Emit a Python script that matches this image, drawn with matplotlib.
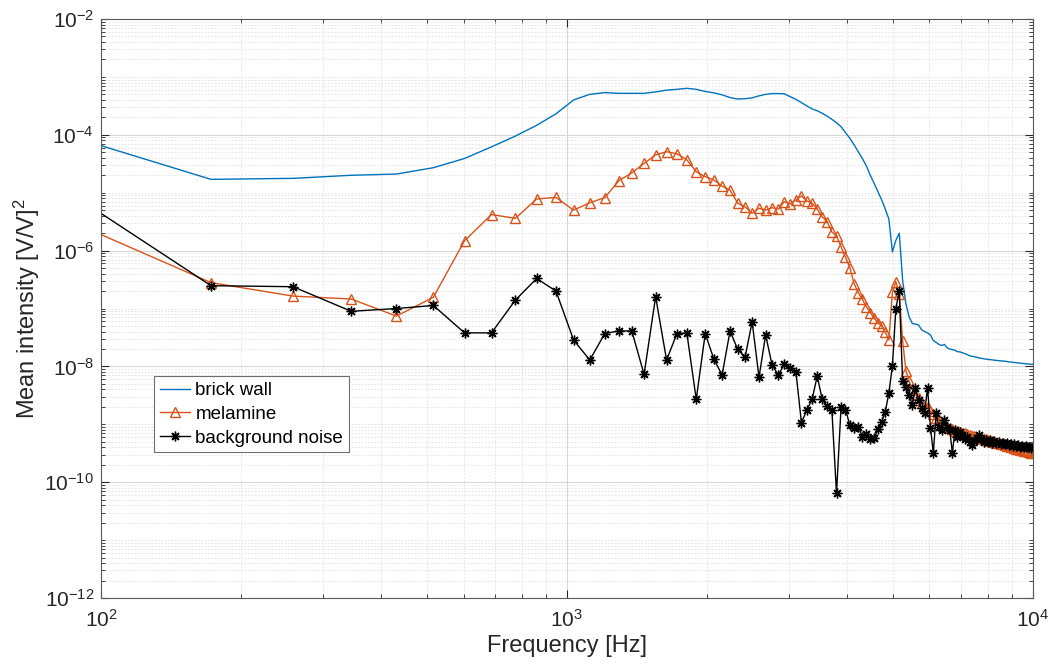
import numpy as np
import matplotlib
matplotlib.use("Agg")
import matplotlib.pyplot as plt
from matplotlib.ticker import FixedLocator, LogFormatterSciNotation, NullFormatter

plt.rcParams['font.family'] = ['Liberation Sans', 'DejaVu Sans']
plt.rcParams['mathtext.fontset'] = 'custom'
plt.rcParams['mathtext.rm'] = 'Liberation Sans'
plt.rcParams['mathtext.it'] = 'Liberation Sans:italic'

# FFT bin width (44100 / 512) and bin numbers 1..116
bin_width = 86.13
bins = np.arange(1, 117)

brick_wall = [
    9.4e-5, 1.70e-5, 1.77e-5, 2.0e-5, 2.1e-5, 2.7e-5, 3.9e-5, 6.2e-5, 9.5e-5, 1.46e-4,
    2.3e-4, 4.0e-4, 5.0e-4, 5.35e-4, 5.2e-4, 5.2e-4, 5.2e-4, 5.5e-4, 5.9e-4, 6.1e-4,
    6.35e-4, 6.1e-4, 5.6e-4, 5.3e-4, 4.9e-4, 4.4e-4, 4.15e-4, 4.2e-4, 4.35e-4, 4.7e-4,
    5.0e-4, 5.15e-4, 5.15e-4, 5.1e-4, 4.55e-4, 4.1e-4, 3.6e-4, 3.15e-4, 2.8e-4, 2.6e-4,
    2.35e-4, 2.1e-4, 1.85e-4, 1.62e-4, 1.38e-4, 1.09e-4, 8.7e-5, 6.7e-5, 5.1e-5, 3.9e-5,
    2.9e-5, 2.0e-5, 1.45e-5, 1.04e-5, 7.5e-6, 5.2e-6, 3.5e-6, 9.5e-7, 1.5e-6, 2.0e-6,
    3.1e-7, 1.2e-7, 7.2e-8, 5.5e-8, 5.4e-8, 5.2e-8, 4.3e-8, 4.0e-8, 3.8e-8, 3.5e-8,
    2.8e-8, 2.6e-8, 2.4e-8, 2.3e-8, 2.4e-8, 2.1e-8, 2.0e-8, 1.95e-8, 1.9e-8, 1.8e-8,
    1.78e-8, 1.72e-8, 1.66e-8, 1.6e-8, 1.52e-8, 1.5e-8, 1.47e-8, 1.44e-8, 1.4e-8, 1.38e-8,
    1.36e-8, 1.34e-8, 1.32e-8, 1.31e-8, 1.30e-8, 1.28e-8, 1.27e-8, 1.26e-8, 1.25e-8, 1.24e-8,
    1.23e-8, 1.22e-8, 1.20e-8, 1.19e-8, 1.18e-8, 1.17e-8, 1.16e-8, 1.15e-8, 1.14e-8, 1.13e-8,
    1.12e-8, 1.11e-8, 1.11e-8, 1.10e-8, 1.09e-8, 1.09e-8,
]

melamine = [
    3.2e-6, 2.8e-7, 1.64e-7, 1.46e-7, 7.4e-8, 1.56e-7, 1.48e-6, 4.2e-6, 3.6e-6, 7.8e-6,
    8.3e-6, 5.0e-6, 6.7e-6, 8.2e-6, 1.61e-5, 2.2e-5, 3.2e-5, 4.5e-5, 5.1e-5, 4.7e-5,
    3.7e-5, 2.3e-5, 1.89e-5, 1.66e-5, 1.3e-5, 1.11e-5, 6.6e-6, 5.7e-6, 4.4e-6, 5.4e-6,
    5.0e-6, 5.5e-6, 5.2e-6, 7.0e-6, 6.4e-6, 7.5e-6, 8.8e-6, 7.2e-6, 6.6e-6, 5.2e-6,
    3.85e-6, 3.15e-6, 2.1e-6, 1.79e-6, 1.17e-6, 7.7e-7, 5.1e-7, 2.7e-7, 1.87e-7, 1.44e-7,
    1.07e-7, 8.5e-8, 6.8e-8, 5.7e-8, 5.0e-8, 3.9e-8, 2.86e-8, 1.9e-7, 2.9e-7, 1.8e-7,
    2.8e-8, 8.5e-9, 5.5e-9, 4.0e-9, 3.3e-9, 2.8e-9, 2.3e-9, 1.9e-9, 2.0e-9, 1.7e-9,
    1.5e-9, 1.3e-9, 1.2e-9, 1.05e-9, 9.7e-10, 9.0e-10, 8.5e-10, 8.2e-10, 7.8e-10, 7.6e-10,
    7.4e-10, 7.2e-10, 7.0e-10, 6.8e-10, 6.6e-10, 6.4e-10, 6.2e-10, 6.0e-10, 5.9e-10, 5.8e-10,
    5.6e-10, 5.5e-10, 5.3e-10, 5.2e-10, 5.1e-10, 4.9e-10, 4.8e-10, 4.7e-10, 4.6e-10, 4.5e-10,
    4.4e-10, 4.3e-10, 4.2e-10, 4.1e-10, 4.0e-10, 3.9e-10, 3.8e-10, 3.7e-10, 3.65e-10, 3.6e-10,
    3.5e-10, 3.45e-10, 3.4e-10, 3.3e-10, 3.25e-10, 3.2e-10,
]

background = [
    9.7e-6, 2.48e-7, 2.38e-7, 8.95e-8, 1.0e-7, 1.13e-7, 3.8e-8, 3.8e-8, 1.40e-7, 3.3e-7,
    2.0e-7, 2.86e-8, 1.29e-8, 3.7e-8, 4.1e-8, 4.1e-8, 7.3e-9, 1.6e-7, 1.29e-8, 3.7e-8,
    3.8e-8, 2.7e-9, 3.7e-8, 1.34e-8, 7.1e-9, 4.1e-8, 1.97e-8, 1.44e-8, 5.9e-8, 6.5e-9,
    3.5e-8, 1.06e-8, 7.1e-9, 1.1e-8, 9.3e-9, 8.1e-9, 1.07e-9, 1.77e-9, 2.7e-9, 6.8e-9,
    2.7e-9, 2.07e-9, 1.8e-9, 6.4e-11, 1.96e-9, 1.8e-9, 9.7e-10, 8.5e-10, 9.1e-10, 6.1e-10,
    6.8e-10, 5.5e-10, 5.7e-10, 8.2e-10, 1.11e-9, 1.65e-9, 3.5e-9, 1.02e-8, 1.0e-7, 2.0e-7,
    5.6e-9, 4.5e-9, 3.2e-9, 2.15e-9, 4.2e-9, 2.6e-9, 1.9e-9, 1.6e-9, 4.3e-9, 8.7e-10,
    3.2e-10, 1.55e-9, 9.0e-10, 8.0e-10, 1.2e-9, 9.1e-10, 8.0e-10, 3.2e-10, 7.9e-10, 6.0e-10,
    7.5e-10, 6.5e-10, 5.5e-10, 6.0e-10, 5.0e-10, 4.4e-10, 5.2e-10, 5.8e-10, 6.5e-10, 5.6e-10,
    5.0e-10, 5.4e-10, 4.9e-10, 5.3e-10, 4.8e-10, 5.1e-10, 4.7e-10, 4.9e-10, 4.6e-10, 4.8e-10,
    4.5e-10, 4.7e-10, 4.4e-10, 4.6e-10, 4.3e-10, 4.5e-10, 4.2e-10, 4.4e-10, 4.1e-10, 4.3e-10,
    4.0e-10, 4.2e-10, 4.0e-10, 4.1e-10, 3.9e-10, 4.0e-10,
]

freq = bins * bin_width

fig = plt.figure(figsize=(10.55, 6.66), dpi=100)
ax = fig.add_axes([0.0957, 0.102, 0.979 - 0.0957, 0.9715 - 0.102])

ax.loglog(freq, brick_wall, color='#0072BD', lw=1.0, label='brick wall')
ax.loglog(freq, melamine, color='#D95319', lw=1.0, marker='^', ms=6.5,
          mfc='none', mew=1.0, label='melamine')
# MATLAB-style asterisk marker
ax.loglog(freq, background, color='black', lw=1.0, marker=(8, 2, 0), ms=7,
          mew=1.0, label='background noise')

ax.set_xlim(1e2, 1e4)
ax.set_ylim(1e-12, 1e-2)

major_y = [10.0 ** e for e in range(-12, -1, 2)]
minor_y = [m * 10.0 ** e for e in range(-12, -2) for m in range(1, 10)
           if not (m == 1 and e % 2 == 0)]
ax.yaxis.set_major_locator(FixedLocator(major_y))
ax.yaxis.set_minor_locator(FixedLocator(minor_y))
ax.yaxis.set_major_formatter(LogFormatterSciNotation())
ax.yaxis.set_minor_formatter(NullFormatter())

ax.grid(True, which='major', color='#d4d4d4', lw=0.7, ls='-')
ax.grid(True, which='minor', color='#e0e0e0', lw=0.6, ls=(0, (2, 2)))
ax.set_axisbelow(True)

ax.tick_params(which='both', direction='in', top=True, right=True,
               colors='#262626', labelsize=15)
ax.tick_params(which='major', length=6, width=0.8)
ax.tick_params(which='minor', length=3, width=0.6)
ax.tick_params(axis='y', which='major', pad=5)
ax.tick_params(axis='x', which='major', pad=8)
for s in ax.spines.values():
    s.set_color('#5a5a5a')
    s.set_linewidth(0.8)

ax.set_xlabel('Frequency [Hz]', fontsize=17, color='#262626', labelpad=3)
ax.set_ylabel('Mean intensity [V/V]$^2$', fontsize=17, color='#262626')
ax.yaxis.set_label_coords(-0.063, 0.5)

leg = ax.legend(loc='lower left', bbox_to_anchor=(0.057, 0.252), fontsize=13.5,
                fancybox=False, framealpha=1, edgecolor='#6e6e6e',
                handlelength=1.6, handletextpad=0.3, borderpad=0.3,
                labelspacing=0.35, borderaxespad=0)
leg.get_frame().set_linewidth(0.8)

fig.savefig('out.png', dpi=100)
